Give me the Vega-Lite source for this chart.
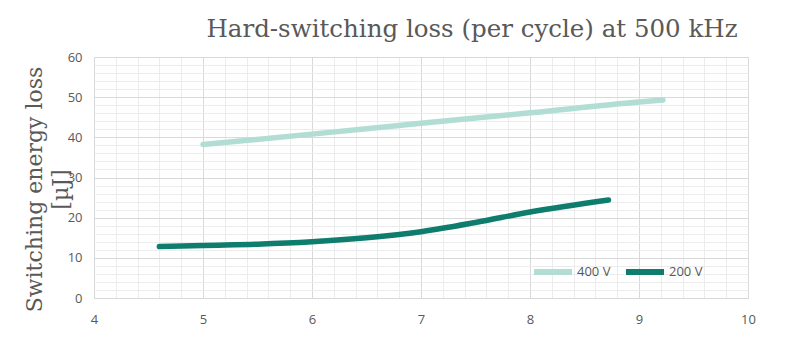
{
  "$schema": "https://vega.github.io/schema/vega-lite/v6.json",
  "width": 654,
  "height": 241,
  "autosize": {"type": "none"},
  "padding": {"left": 94, "top": 57, "right": 52, "bottom": 53},
  "background": "white",
  "title": {
    "text": "Hard-switching loss (per cycle) at 500 kHz",
    "font": "DejaVu Serif",
    "fontSize": 24.5,
    "fontWeight": "normal",
    "color": "#595959",
    "anchor": "middle",
    "frame": "group",
    "dx": 51,
    "offset": 9
  },
  "data": {
    "values": [
      {"v": 5.0, "e": 38.2, "s": "400 V"},
      {"v": 6.0, "e": 40.8, "s": "400 V"},
      {"v": 7.0, "e": 43.5, "s": "400 V"},
      {"v": 8.0, "e": 46.1, "s": "400 V"},
      {"v": 9.0, "e": 48.8, "s": "400 V"},
      {"v": 9.22, "e": 49.3, "s": "400 V"},
      {"v": 4.6, "e": 12.8, "s": "200 V"},
      {"v": 5.0, "e": 13.1, "s": "200 V"},
      {"v": 5.5, "e": 13.4, "s": "200 V"},
      {"v": 6.0, "e": 14.0, "s": "200 V"},
      {"v": 6.5, "e": 15.0, "s": "200 V"},
      {"v": 7.0, "e": 16.5, "s": "200 V"},
      {"v": 7.5, "e": 18.8, "s": "200 V"},
      {"v": 8.0, "e": 21.4, "s": "200 V"},
      {"v": 8.72, "e": 24.4, "s": "200 V"}
    ]
  },
  "mark": {"type": "line", "interpolate": "monotone", "strokeWidth": 5.5, "strokeCap": "round"},
  "encoding": {
    "x": {
      "field": "v",
      "type": "quantitative",
      "scale": {"domain": [4, 10], "nice": false, "zero": false},
      "axis": {
        "title": null,
        "values": [4,4.2,4.4,4.6,4.8,5,5.2,5.4,5.6,5.8,6,6.2,6.4,6.6,6.8,7,7.2,7.4,7.6,7.8,8,8.2,8.4,8.6,8.8,9,9.2,9.4,9.6,9.8,10],
        "labelExpr": "abs(datum.value - round(datum.value)) < 0.001 ? format(datum.value, 'd') : ''",
        "labelOverlap": false,
        "labelFlush": false,
        "labelFont": "Open Sans",
        "labelFontSize": 13,
        "labelColor": "#595959",
        "labelPadding": 15,
        "ticks": false,
        "domain": false,
        "grid": true,
        "gridColor": {"condition": {"test": "abs(datum.value - round(datum.value)) < 0.001", "value": "#d9d9d9"}, "value": "#ececec"},
        "gridWidth": 1
      }
    },
    "y": {
      "field": "e",
      "type": "quantitative",
      "scale": {"domain": [0, 60], "nice": false},
      "axis": {
        "title": ["Switching energy loss", "[µJ]"],
        "titleFont": "DejaVu Serif",
        "titleFontSize": 22,
        "titleFontWeight": "normal",
        "titleColor": "#595959",
        "titleAngle": -90,
        "titleAlign": "center",
        "titleBaseline": "alphabetic",
        "titleLineHeight": 26,
        "titleX": -53,
        "titleY": 132,
        "values": [0,2,4,6,8,10,12,14,16,18,20,22,24,26,28,30,32,34,36,38,40,42,44,46,48,50,52,54,56,58,60],
        "labelExpr": "datum.value % 10 === 0 ? datum.label : ''",
        "labelOverlap": false,
        "labelFont": "Open Sans",
        "labelFontSize": 13,
        "labelColor": "#595959",
        "labelPadding": 12,
        "ticks": false,
        "domain": false,
        "grid": true,
        "gridColor": {"condition": {"test": "datum.value % 10 === 0", "value": "#d9d9d9"}, "value": "#ececec"},
        "gridWidth": 1
      }
    },
    "color": {
      "field": "s",
      "type": "nominal",
      "scale": {"domain": ["400 V", "200 V"], "range": ["#b2ddd5", "#0e7d6d"]},
      "legend": {
        "title": null,
        "orient": "none",
        "legendX": 437,
        "legendY": 193,
        "direction": "horizontal",
        "symbolType": "stroke",
        "symbolSize": 1444,
        "symbolStrokeWidth": 6,
        "labelFont": "Open Sans",
        "labelFontSize": 13,
        "labelColor": "#595959",
        "labelOffset": 2,
        "columnPadding": 3
      }
    }
  },
  "config": {
    "view": {"stroke": "#d9d9d9"}
  }
}
